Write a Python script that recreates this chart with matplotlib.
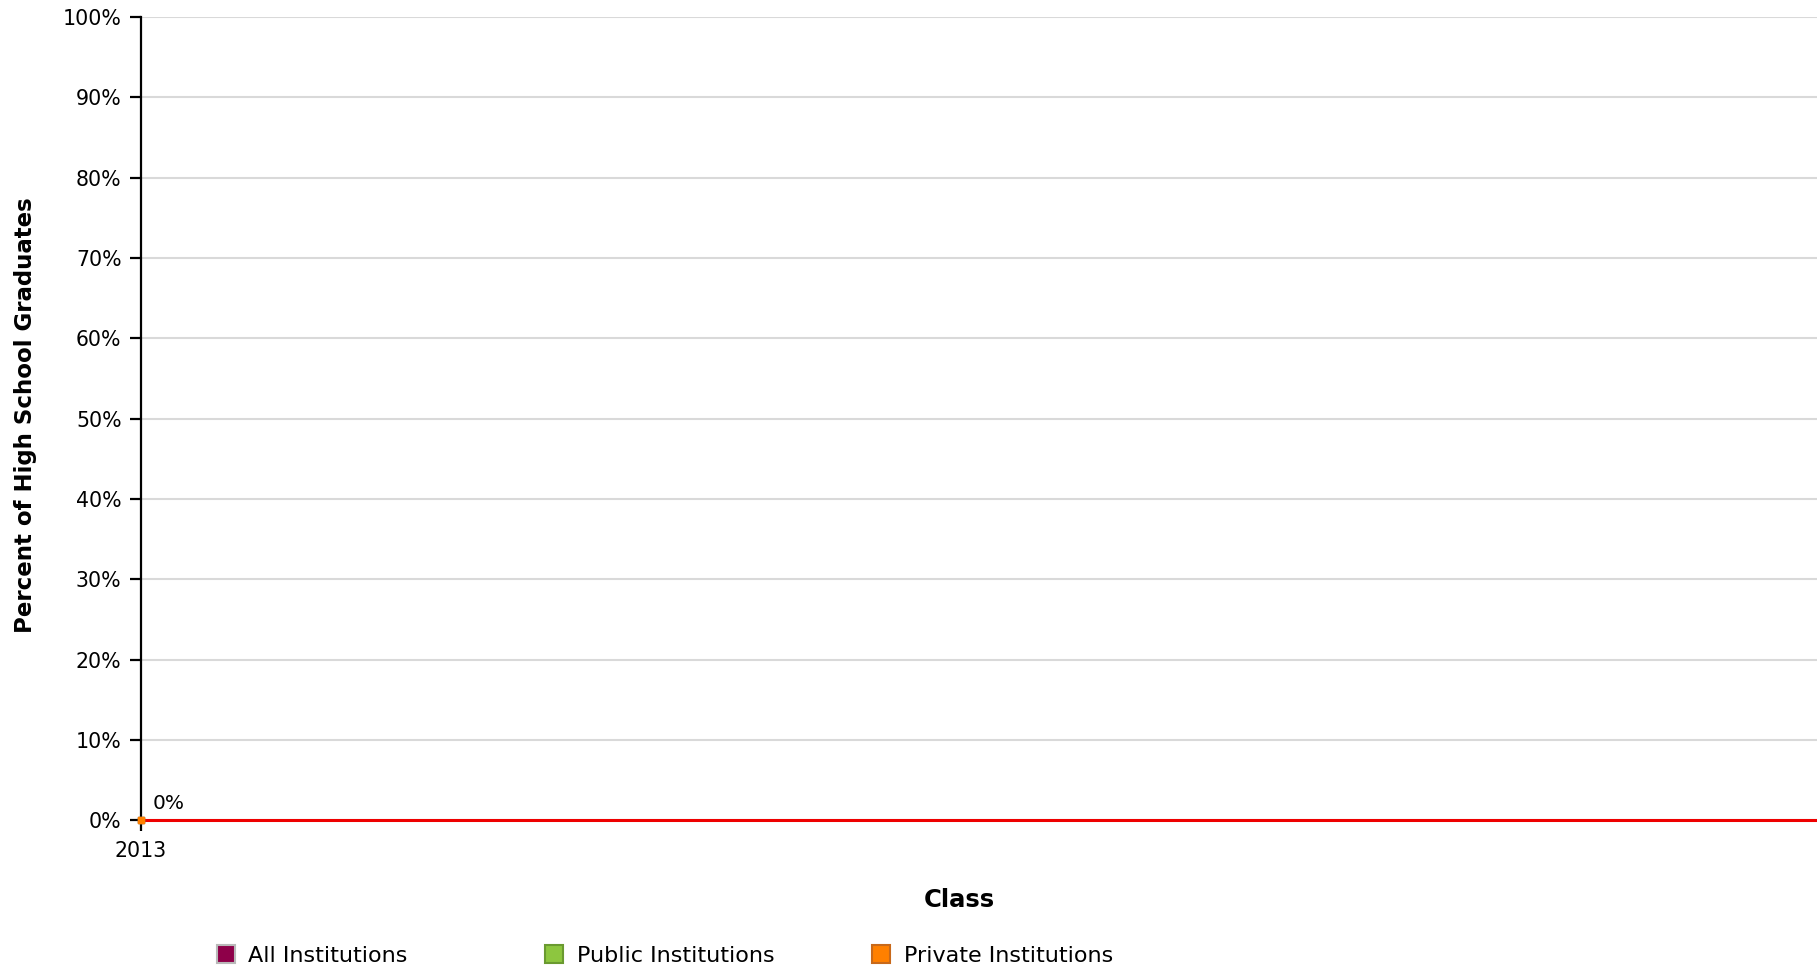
import matplotlib
matplotlib.use("Agg")
import matplotlib.pyplot as plt
import matplotlib.ticker as mtick
from matplotlib.lines import Line2D

# data
years = [2013]
all_institutions = [0.0]
public_institutions = [0.0]
private_institutions = [0.0]
baseline = 0.0

series_names = ["All Institutions", "Public Institutions", "Private Institutions"]
series_colors = ["#8e0049", "#8dc63f", "#ff8000"]
series_edges = ["#b9b9b9", "#6a9a30", "#c8691a"]

fig = plt.figure(figsize=(18.17, 9.72), dpi=100)
ax = fig.add_axes([0.0776, 0.1559, 1 - 0.0776, 0.9825 - 0.1559])

# gridlines
ax.set_ylim(0, 1)
ax.set_yticks([i / 10 for i in range(11)])
ax.yaxis.set_major_formatter(mtick.PercentFormatter(1.0, decimals=0))
ax.grid(axis="y", color="#d9d9d9", linewidth=1.5)
ax.set_axisbelow(True)

# red reference line at zero
ax.axhline(baseline, color="#ee0000", linewidth=2.2, zorder=3, clip_on=False)

# series points (only one class year)
for vals, col in zip([all_institutions, public_institutions, private_institutions], series_colors):
    ax.plot(years, vals, marker="s", markersize=5, color=col, linestyle="-",
            zorder=4, clip_on=False)

# value label for the top series
ax.annotate(f"{private_institutions[0]*100:.0f}%", (years[0], private_institutions[0]),
            xytext=(8.5, 8), textcoords="offset points", fontsize=14.5,
            ha="left", va="baseline")

ax.set_xlim(years[0], years[0] + 1)
ax.set_xticks(years)
ax.set_xticklabels([str(y) for y in years])

for side in ["top", "right", "bottom"]:
    ax.spines[side].set_visible(False)
ax.spines["left"].set_linewidth(1.6)
ax.spines["left"].set_color("black")

ax.tick_params(axis="y", length=8, width=1.6, labelsize=14.8, pad=6)
ax.tick_params(axis="x", length=8, width=1.6, labelsize=14.8, pad=7)

# axis titles
fig.text(0.014, 0.573, "Percent of High School Graduates", rotation=90,
         fontsize=16.5, fontweight="bold", ha="center", va="center")
fig.text(0.528, 0.074, "Class", fontsize=17.5, fontweight="bold",
         ha="center", va="center")

# legend, fixed-width entries
legend_x = [0.118, 0.299, 0.479]
for name, col, edge, lx in zip(series_names, series_colors, series_edges, legend_x):
    handle = Line2D([], [], marker="s", linestyle="none", markersize=13,
                    markerfacecolor=col, markeredgecolor=edge, markeredgewidth=1.5)
    fig.legend(handles=[handle], labels=[name], loc="center left",
               bbox_to_anchor=(lx, 0.0165), frameon=False, borderpad=0,
               borderaxespad=0, handlelength=1, handletextpad=0.5,
               fontsize=16)

plt.savefig("out.png", dpi=100)
